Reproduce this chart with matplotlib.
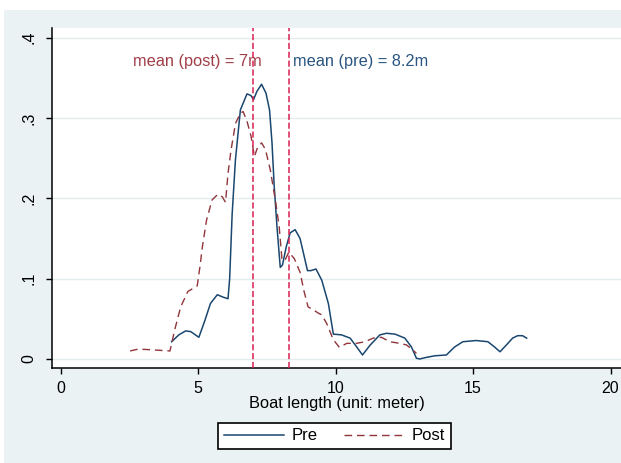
import numpy as np
import matplotlib.pyplot as plt
from matplotlib.patches import Rectangle

''' Data read off the reference '''
pre_x = [4.04, 4.3, 4.55, 4.74, 5.03, 5.25, 5.45, 5.70, 5.91, 6.09, 6.15, 6.24, 6.36, 6.54,
         6.78, 6.92, 7.02, 7.14, 7.31, 7.47, 7.60, 7.69, 7.77, 7.87, 7.99, 8.07, 8.21, 8.35,
         8.53, 8.71, 8.98, 9.10, 9.29, 9.50, 9.74, 9.92, 10.22, 10.53, 10.77, 10.98, 11.25,
         11.61, 11.85, 12.16, 12.52, 12.76, 12.94, 13.06, 13.30, 13.61, 14.03, 14.33, 14.63,
         15.11, 15.54, 15.78, 15.98, 16.20, 16.44, 16.62, 16.80, 16.95]
pre_y = [0.0215, 0.030, 0.035, 0.034, 0.027, 0.048, 0.069, 0.080, 0.077, 0.075, 0.100, 0.180,
         0.248, 0.310, 0.330, 0.328, 0.323, 0.333, 0.342, 0.331, 0.310, 0.269, 0.215, 0.165,
         0.114, 0.117, 0.140, 0.157, 0.161, 0.150, 0.110, 0.110, 0.112, 0.098, 0.069, 0.031,
         0.030, 0.026, 0.015, 0.005, 0.017, 0.030, 0.032, 0.031, 0.026, 0.015, 0.001, 0.000,
         0.002, 0.004, 0.005, 0.015, 0.0215, 0.023, 0.0215, 0.015, 0.009, 0.017, 0.026, 0.029,
         0.029, 0.026]

post_x = [2.53, 2.78, 3.04, 3.52, 3.98, 4.15, 4.37, 4.63, 4.97, 5.07, 5.16, 5.31, 5.51, 5.72,
          5.88, 6.00, 6.09, 6.20, 6.36, 6.54, 6.64, 6.78, 6.93, 7.05, 7.17, 7.31, 7.45, 7.63,
          7.81, 7.95, 8.05, 8.15, 8.30, 8.50, 8.71, 8.85, 9.00, 9.20, 9.38, 9.50, 9.68, 9.92,
          10.14, 10.41, 10.77, 11.07, 11.37, 11.67, 11.97, 12.34, 12.58, 12.82, 12.94]
post_y = [0.010, 0.012, 0.012, 0.011, 0.010, 0.036, 0.065, 0.084, 0.091, 0.115, 0.140, 0.173,
          0.198, 0.205, 0.202, 0.195, 0.231, 0.260, 0.293, 0.306, 0.308, 0.296, 0.277, 0.252,
          0.264, 0.269, 0.261, 0.235, 0.198, 0.165, 0.125, 0.122, 0.133, 0.125, 0.108, 0.085,
          0.065, 0.061, 0.057, 0.055, 0.044, 0.024, 0.0145, 0.0195, 0.0195, 0.0215, 0.026,
          0.027, 0.0215, 0.0195, 0.0175, 0.011, 0.007]

mean_post = 7.0
mean_pre = 8.3
x_ticks = [0, 5, 10, 15, 20]
y_ticks = [0, 0.1, 0.2, 0.3, 0.4]
y_labels = ['0', '.1', '.2', '.3', '.4']

''' Colours '''
navy = '#1A476F'
maroon = '#90353B'
vline = '#D6204F'
bg = '#EAF2F3'

plt.rcParams['font.family'] = ['Liberation Sans', 'DejaVu Sans']

W, H = 621, 463
fig = plt.figure(figsize=(W / 100, H / 100), dpi=100)
fig.patch.set_facecolor('white')
fig.patches.append(Rectangle((4 / W, 0), 1, (H - 10) / H, transform=fig.transFigure,
                             facecolor=bg, edgecolor='none', zorder=-5))

ax = fig.add_axes([52 / W, (H - 368) / H, (W - 52) / W, (368 - 28) / H])
ax.set_zorder(2)
ax.set_facecolor('white')

for y in y_ticks:
    ax.axhline(y, color='#E3ECEF', lw=1.0, zorder=1)

ax.plot(pre_x, pre_y, color=navy, lw=1.1, label='Pre', zorder=3)
ax.plot(post_x, post_y, color=maroon, lw=1.0, dashes=(5.5, 3.5), label='Post', zorder=3)

ax.axvline(mean_post, color=vline, lw=1.1, dashes=(4.0, 1.8), zorder=4)
ax.axvline(mean_pre, color=vline, lw=1.1, dashes=(4.0, 1.8), zorder=4)

ax.text(2.64, 0.37, 'mean (post) = 7m', color='#A03E48', fontsize=11.8, va='center', ha='left')
ax.text(8.45, 0.37, 'mean (pre) = 8.2m', color='#2A5580', fontsize=11.8, va='center', ha='left')

ax.set_xlim(-0.31, 20.38)
ax.set_ylim(-0.0112, 0.412)
ax.set_xticks(x_ticks)
ax.set_yticks(y_ticks)
ax.set_yticklabels(y_labels, rotation=90, va='center')
ax.tick_params(axis='both', length=4.5, width=1.0, color='black', labelsize=11.5)
ax.tick_params(axis='y', pad=7)
ax.tick_params(axis='x', pad=5)

for s in ['top', 'right']:
    ax.spines[s].set_visible(False)
for s in ['left', 'bottom']:
    ax.spines[s].set_linewidth(1.1)
    ax.spines[s].set_color('black')

ax.set_xlabel('Boat length (unit: meter)', fontsize=11.8, labelpad=0)

leg = ax.legend(ncol=2, loc='center', bbox_to_anchor=(334.5 / W, (H - 436) / H),
                bbox_transform=fig.transFigure, fontsize=12, frameon=True, fancybox=False,
                handlelength=3.6, handletextpad=0.45, columnspacing=1.6, borderpad=0.35)
leg.get_frame().set_edgecolor('black')
leg.get_frame().set_linewidth(1.2)
leg.get_frame().set_facecolor('white')
leg.get_frame().set_alpha(1)

fig.savefig('out.png', dpi=100, facecolor=fig.get_facecolor())
